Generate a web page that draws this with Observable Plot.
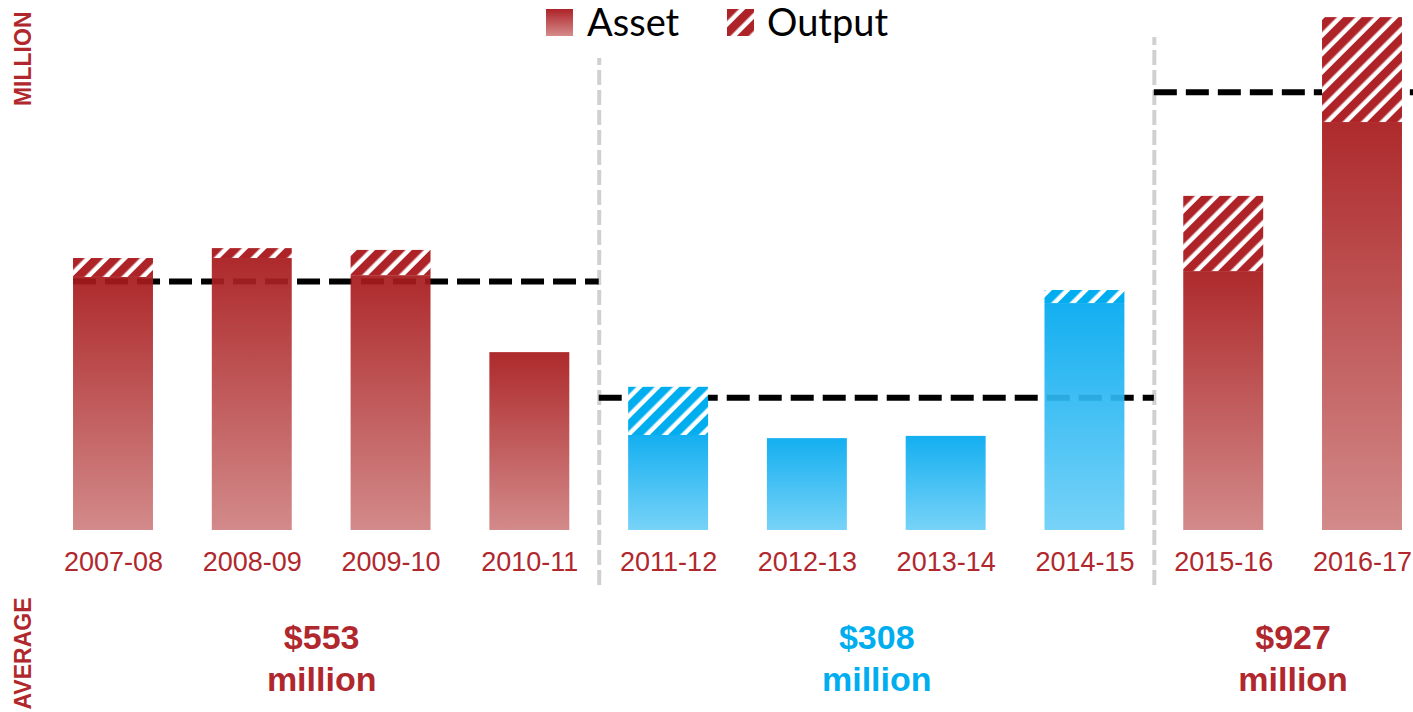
<!DOCTYPE html>
<html>
<head>
<meta charset="utf-8">
<script src="https://cdn.jsdelivr.net/npm/d3@7"></script>
<script src="https://cdn.jsdelivr.net/npm/@observablehq/plot@0.6"></script>
<style>
  html, body { margin: 0; padding: 0; background: white; overflow: hidden; }
  #wrap { position: relative; width: 1413px; height: 712px; }
  #wrap svg.plot-main { overflow: hidden; }
  .lg { position: absolute; font-family: Lato, "Open Sans", sans-serif; font-size: 38px; line-height: 38px; color: #000; white-space: nowrap; }
  .sw { position: absolute; width: 27px; height: 27px; }
</style>
</head>
<body>
<svg width="0" height="0" style="position:absolute">
  <defs>
    <linearGradient id="gRed" x1="0" y1="0" x2="0" y2="1">
      <stop offset="0" stop-color="#a7181a"/>
      <stop offset="1" stop-color="#cf8080"/>
    </linearGradient>
    <linearGradient id="gBlue" x1="0" y1="0" x2="0" y2="1">
      <stop offset="0" stop-color="#00a8ef"/>
      <stop offset="1" stop-color="#6ccff7"/>
    </linearGradient>
    <linearGradient id="gRedLegend" x1="0" y1="0" x2="0" y2="1">
      <stop offset="0" stop-color="#ad2328"/>
      <stop offset="1" stop-color="#d68b8b"/>
    </linearGradient>
    <pattern id="hRed" patternUnits="userSpaceOnUse" width="13" height="13" patternTransform="rotate(45)">
      <rect width="13" height="13" fill="white"/>
      <rect width="8.5" height="13" fill="#ad2328"/>
    </pattern>
    <pattern id="hBlue" patternUnits="userSpaceOnUse" width="13" height="13" patternTransform="rotate(45)">
      <rect width="13" height="13" fill="white"/>
      <rect width="8.5" height="13" fill="#00aeef"/>
    </pattern>
  </defs>
</svg>
<div id="wrap">
  <svg class="sw" style="left:546px; top:9px" viewBox="0 0 27 27"><rect width="27" height="27" fill="url(#gRedLegend)"/></svg>
  <div class="lg" style="left:587px; top:1.5px">Asset</div>
  <svg class="sw" style="left:727px; top:9px" viewBox="0 0 27 27"><rect width="27" height="27" fill="url(#hRed)"/></svg>
  <div class="lg" style="left:767px; top:1.5px">Output</div>
</div>
<script>
// ---- data (millions) ----
const years  = ["2007-08","2008-09","2009-10","2010-11","2011-12","2012-13","2013-14","2014-15","2015-16","2016-17"];
const asset  = [562, 604, 566, 395, 211, 204, 209, 504, 575, 906];
const output = [ 42,  22,  56,   0, 107,   0,   0,  29, 167, 233];
const period = [0, 0, 0, 0, 1, 1, 1, 1, 2, 2];
const avgLabels = ["$553", "$308", "$927"];
const avgLevels = [553, 295, 973];          // where the dashed average lines sit
const periodKeys = ["red", "blue", "red"];
const separatorTops = [1048, 1095];          // top of the grey dashed separators

const RED = "#b0282d", BLUE = "#00aeef";
const textColor = {red: RED, blue: BLUE};
const gradFill = {red: "url(#gRed)", blue: "url(#gBlue)"};
const hatchFill = {red: "url(#hRed)", blue: "url(#hBlue)"};

const rows = years.map((year, i) => ({i, year, asset: asset[i], output: output[i], key: periodKeys[period[i]]}));

const hw = 0.288; // bar half width in category units
const groups = avgLabels.map((label, p) => {
  const idx = rows.filter(r => period[r.i] === p).map(r => r.i);
  const start = d3.min(idx), end = d3.max(idx);
  return {
    label, level: avgLevels[p], key: periodKeys[p],
    mid: (start + end) / 2,
    x1: p === 0 ? start - hw : start - 0.5,
    x2: end + 0.5
  };
});
const separators = groups.slice(0, -1).map((g, k) => ({x: g.x2, top: separatorTops[k]}));

const FONT = "'Liberation Sans', Arial, sans-serif";

const chart = Plot.plot({
  width: 1413,
  height: 712,
  marginTop: 0,
  marginBottom: 182,
  marginLeft: 113,
  marginRight: 51,
  x: {domain: [0, 9], axis: null},
  y: {domain: [0, 1177], axis: null},
  color: {type: "identity"},
  style: {fontFamily: FONT, background: "white"},
  marks: [
    Plot.ruleX(separators, {x: "x", y1: -122, y2: "top", stroke: "#d0d0d0", strokeWidth: 4, strokeDasharray: "15,5"}),
    Plot.ruleY(groups, {y: "level", x1: "x1", x2: "x2", stroke: "black", strokeWidth: 6, strokeDasharray: "23,9"}),
    Plot.rectY(rows, {x1: d => d.i - hw, x2: d => d.i + hw, y1: 0, y2: "asset", fill: d => gradFill[d.key], fillOpacity: 0.92}),
    Plot.rectY(rows.filter(d => d.output > 0), {x1: d => d.i - hw, x2: d => d.i + hw, y1: "asset", y2: d => d.asset + d.output, fill: d => hatchFill[d.key]}),
    Plot.text(rows, {x: "i", text: "year", frameAnchor: "bottom", lineAnchor: "middle", dy: 32, fill: RED, fontSize: 27, fontFamily: FONT}),
    Plot.text(groups, {x: "mid", text: d => d.label + "\nmillion", frameAnchor: "bottom", lineAnchor: "middle", dy: 126, lineHeight: 1.24,
      fill: d => textColor[d.key], fontSize: 34, fontWeight: "bold", fontFamily: FONT}),
    Plot.text(["MILLION"], {frameAnchor: "top-left", dx: -89.5, dy: 11, rotate: -90, textAnchor: "end", lineAnchor: "middle",
      fill: RED, fontSize: 23, fontWeight: "bold", fontFamily: FONT}),
    Plot.text(["AVERAGE"], {frameAnchor: "top-left", dx: -89.5, dy: 597, rotate: -90, textAnchor: "end", lineAnchor: "middle",
      fill: RED, fontSize: 23, fontWeight: "bold", fontFamily: FONT})
  ]
});
chart.classList.add("plot-main");
chart.style.position = "absolute";
chart.style.left = "0";
chart.style.top = "0";
const wrap = document.getElementById("wrap");
wrap.insertBefore(chart, wrap.firstChild);
</script>
</body>
</html>
